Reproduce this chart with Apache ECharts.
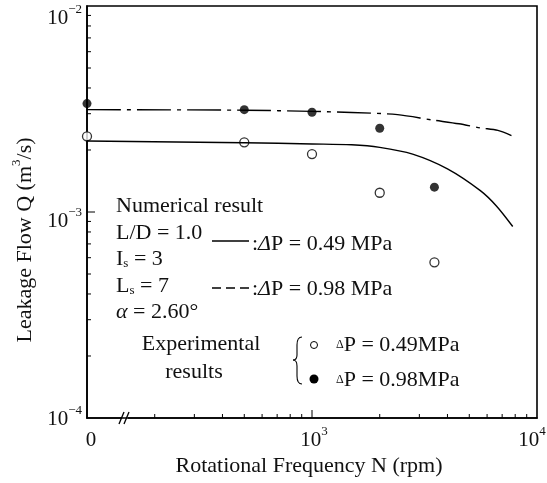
<!DOCTYPE html>
<html><head><meta charset="utf-8">
<script src="https://cdn.jsdelivr.net/npm/echarts@6/dist/echarts.min.js"></script>
<style>html,body{margin:0;padding:0;background:#fff}#c{width:547px;height:483px}</style>
</head><body><div id="c"></div>
<script>
// ---------------- data ----------------
const ZERO_AT = 100; // N = 0 is drawn at the left end of the (broken) log axis
const expN = [0, 500, 1000, 2000, 3500];
const expQ049 = [2.33e-3, 2.18e-3, 1.91e-3, 1.24e-3, 5.7e-4];
const expQ098 = [3.36e-3, 3.14e-3, 3.05e-3, 2.55e-3, 1.32e-3];
const numN049 = [0, 500, 1000, 1500, 2000, 2800, 4000, 5600, 6600, 7800];
const numQ049 = [2.21e-3, 2.17e-3, 2.14e-3, 2.12e-3, 2.06e-3, 1.91e-3, 1.62e-3, 1.27e-3, 1.07e-3, 8.5e-4];
const numN098 = [0, 500, 1000, 1500, 2400, 3400, 4500, 5600, 6700, 7700];
const numQ098 = [3.14e-3, 3.12e-3, 3.08e-3, 3.04e-3, 2.97e-3, 2.80e-3, 2.68e-3, 2.56e-3, 2.49e-3, 2.35e-3];
const xMajorTicks = [100, 1000, 10000];
const xTickBase = ['0', '10', '10'];
const xTickSup = ['', '3', '4'];
const yMajorTicks = [1e-2, 1e-3, 1e-4];
const yTickSup = ['\u22122', '\u22123', '\u22124'];
const xMinorTicks = [200, 300, 400, 500, 600, 700, 800, 900, 2000, 3000, 4000, 5000, 6000, 7000, 8000, 9000];
const yMinorTicks = [2e-4, 3e-4, 4e-4, 5e-4, 6e-4, 7e-4, 8e-4, 9e-4, 2e-3, 3e-3, 4e-3, 5e-3, 6e-3, 7e-3, 8e-3, 9e-3];

// ---------------- chart ----------------
const FONT = 'Liberation Serif';
const INK = '#111';
const FS = 22;
function pairs(ns, qs) { return ns.map((n, i) => [n === 0 ? ZERO_AT : n, qs[i]]); }

const chart = echarts.init(document.getElementById('c'), null, {renderer: 'canvas'});
chart.setOption({
  animation: false,
  backgroundColor: '#fff',
  grid: {left: 87, right: 10, top: 6, bottom: 65, show: true, borderColor: '#000', borderWidth: 1.6, backgroundColor: 'transparent'},
  xAxis: {
    type: 'log', logBase: 10, min: 100, max: 10000,
    axisLine: {show: true, lineStyle: {color: '#000', width: 1.6}},
    axisTick: {show: false}, axisLabel: {show: false}, splitLine: {show: false}, minorTick: {show: false},
    name: 'Rotational Frequency N (rpm)', nameLocation: 'middle', nameGap: 37,
    nameTextStyle: {fontFamily: FONT, fontSize: FS, color: INK, padding: [0, 6, 0, 0]}
  },
  yAxis: {
    type: 'log', logBase: 10, min: 1e-4, max: 1e-2,
    axisLine: {show: true, lineStyle: {color: '#000', width: 1.6}},
    axisTick: {show: false}, axisLabel: {show: false}, splitLine: {show: false}, minorTick: {show: false}
  },
  series: [
    {type: 'line', name: 'num049', data: pairs(numN049, numQ049), smooth: 0.3, showSymbol: false, clip: false,
     lineStyle: {color: '#000', width: 1.4}},
    {type: 'line', name: 'num098', data: pairs(numN098, numQ098), smooth: 0.3, showSymbol: false, clip: false,
     lineStyle: {color: '#000', width: 1.4, type: [34, 6, 4, 6]}},
    {type: 'scatter', name: 'exp049', data: pairs(expN, expQ049), symbol: 'circle', symbolSize: 9, clip: false,
     itemStyle: {color: '#fff', borderColor: '#000', borderWidth: 1.3}},
    {type: 'scatter', name: 'exp098', data: pairs(expN, expQ098), symbol: 'circle', symbolSize: 9, clip: false,
     itemStyle: {color: '#000'}}
  ]
});

const px = v => chart.convertToPixel({xAxisIndex: 0}, v);
const py = v => chart.convertToPixel({yAxisIndex: 0}, v);
const xl = px(100), yb = py(1e-4);
const g = [];
const seg = (x1, y1, x2, y2, w) => g.push({type: 'line', silent: true, shape: {x1, y1, x2, y2}, style: {stroke: '#000', lineWidth: w || 1}});
xMinorTicks.forEach(v => seg(px(v), yb, px(v), yb - 4));
seg(px(1000), yb, px(1000), yb - 8);
yMinorTicks.forEach(v => seg(xl, py(v), xl + 4, py(v)));
seg(xl, py(1e-3), xl + 8, py(1e-3));

// axis break mark
g.push({type: 'rect', silent: true, shape: {x: 121, y: yb - 2, width: 7, height: 4}, style: {fill: '#fff'}});
seg(119, yb + 6, 124, yb - 6, 1.3);
seg(124, yb + 6, 129, yb - 6, 1.3);

const supRich = {
  a: {fontFamily: FONT, fontSize: 21, lineHeight: 26, verticalAlign: 'bottom', fill: INK},
  s: {fontFamily: FONT, fontSize: 13, lineHeight: 12, verticalAlign: 'top', fill: INK}
};
// y tick labels
const yLabOff = [10, 7, -1];
yMajorTicks.forEach((v, i) => g.push({type: 'text', silent: true, x: xl - 5, y: py(v) + yLabOff[i],
  style: {text: '{a|10}{s|' + yTickSup[i] + '}', rich: supRich, align: 'right', verticalAlign: 'middle', fill: INK}}));
// x tick labels
const xLabOff = [4, 2, -5];
xMajorTicks.forEach((v, i) => g.push({type: 'text', silent: true, x: px(v) + xLabOff[i], y: yb + 20,
  style: {text: '{a|' + xTickBase[i] + '}' + (xTickSup[i] ? '{s|' + xTickSup[i] + '}' : ''), rich: supRich, align: 'center', verticalAlign: 'middle', fill: INK}}));

// y axis title
const titleRich = {
  a: {fontFamily: FONT, fontSize: FS, lineHeight: 26, verticalAlign: 'bottom', fill: INK},
  s: {fontFamily: FONT, fontSize: 13, lineHeight: 12, verticalAlign: 'top', fill: INK}
};
g.push({type: 'text', silent: true, x: 23, y: 240, rotation: Math.PI / 2,
  style: {text: '{a|Leakage Flow Q (m}{s|3}{a|/s)}', rich: titleRich, align: 'center', verticalAlign: 'middle', fill: INK}});

// annotation block
const T = {fontFamily: FONT, fontSize: FS, lineHeight: 26, verticalAlign: 'middle', fill: INK};
const R = {
  n: T,
  i: Object.assign({}, T, {fontStyle: 'italic'}),
  sd: {fontFamily: FONT, fontSize: 12, lineHeight: 26, verticalAlign: 'middle', fill: INK}
};
const R2 = {
  n: {fontFamily: FONT, fontSize: FS, lineHeight: 22, verticalAlign: 'top', fill: INK},
  sub: {fontFamily: FONT, fontSize: 13, lineHeight: 10, verticalAlign: 'bottom', fill: INK}
};
const txt = (x, y, text, rich, align) => g.push({type: 'text', silent: true, x, y,
  style: {text, rich: rich || R, align: align || 'left', verticalAlign: 'middle', fill: INK}});
txt(116, 206, '{n|Numerical result}');
txt(116, 233, '{n|L/D = 1.0}');
txt(116, 259, '{n|I}{sub|s}{n| = 3}', R2);
txt(116, 286, '{n|L}{sub|s}{n| = 7}', R2);
txt(116, 312, '{i|\u03b1}{n| = 2.60\u00b0}');
seg(212, 241, 249, 241, 1.4);
txt(252, 244, '{n|:}{i|\u0394}{n|P = 0.49 MPa}');
g.push({type: 'line', silent: true, shape: {x1: 212, y1: 288, x2: 249, y2: 288}, style: {stroke: '#000', lineWidth: 1.6, lineDash: [9, 5]}});
txt(252, 289, '{n|:}{i|\u0394}{n|P = 0.98 MPa}');
txt(201, 344, '{n|Experimental}', R, 'center');
txt(194, 372, '{n|results}', R, 'center');
// brace
const bz = (x1, y1, cpx1, cpy1, x2, y2) => g.push({type: 'bezierCurve', silent: true,
  shape: {x1, y1, x2, y2, cpx1, cpy1}, style: {stroke: '#000', lineWidth: 1.1, fill: null}});
bz(302, 337, 297, 337, 297, 345);
seg(297, 345, 297, 355, 1.1);
bz(297, 355, 297, 360, 293, 360);
bz(293, 360, 297, 360, 297, 366);
seg(297, 366, 297, 376, 1.1);
bz(297, 376, 297, 384, 302, 384);
g.push({type: 'circle', silent: true, shape: {cx: 314, cy: 345, r: 3.5}, style: {stroke: '#000', lineWidth: 1, fill: '#fff'}});
g.push({type: 'circle', silent: true, shape: {cx: 314, cy: 379, r: 4.5}, style: {fill: '#000'}});
txt(336, 345, '{sd|\u0394}{n|P = 0.49MPa}');
txt(336, 380, '{sd|\u0394}{n|P = 0.98MPa}');

chart.setOption({graphic: {elements: g}});
</script></body></html>
